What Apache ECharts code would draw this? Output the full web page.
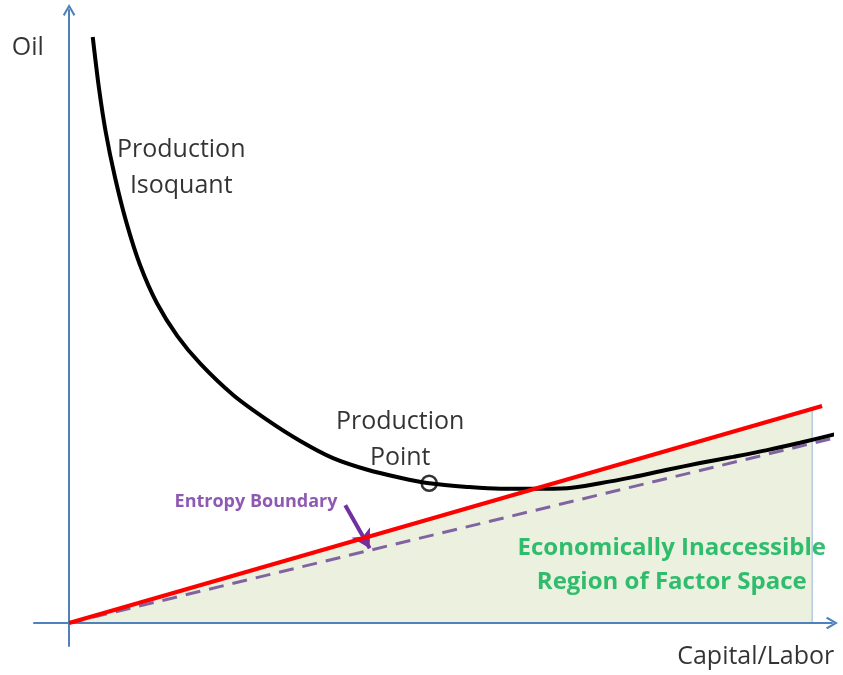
<!DOCTYPE html>
<html>
<head>
<meta charset="utf-8">
<script src="https://cdn.jsdelivr.net/npm/echarts@6/dist/echarts.min.js"></script>
<style>
html, body { margin: 0; padding: 0; background: #fff; }
#chart { width: 843px; height: 675px; }
</style>
</head>
<body>
<div id="chart"></div>
<script>
// factor space, arbitrary units: x = capital/labor, y = oil
var isoquant = [
	[3.1, 95.6], [3.9, 87.4], [4.8, 80.1], [6.0, 72.8], [7.5, 65.4], [9.3, 58.4],
	[11.5, 52.2], [14.2, 46.8], [17.2, 42.3], [21.5, 37.2], [26.0, 33.1], [30.3, 29.7],
	[34.6, 26.9], [39.1, 25.0], [43.4, 23.7], [47.2, 22.8], [52.2, 22.2], [56.5, 21.9],
	[60.8, 21.9], [65.3, 22.0], [69.6, 22.8], [73.9, 23.8], [78.4, 25.0], [82.7, 26.1],
	[87.0, 27.1], [91.5, 28.2], [95.8, 29.4], [100.4, 30.8]
];
var budgetLine = [[0, 0], [98.7, 35.4]];
var entropyBoundary = [[0, 0], [100.7, 30.3]];
var inaccessibleRegion = [[0, 0], [97.4, 34.9], [97.4, 0]];
var productionPoint = [[47.2, 22.8]];
var entropyArrow = [[36.2, 19.2], [39.4, 12.2]];

var axisNames = ["Oil", "Capital/Labor"];
var axisNamePos = [[-5.4, 93.8], [90.0, -5.5]];
var notes = ["Production\nIsoquant", "Production\nPoint", "Entropy Boundary", "Economically Inaccessible\nRegion of Factor Space"];
var notePos = [[14.7, 74.2], [43.4, 29.9], [24.5, 19.7], [79.0, 9.5]];

var chevron = "path://M5,0 L10,8.6 L8.6,9.6 L5,3.2 L1.4,9.6 L0,8.6 Z";
var axisBlue = "#4f81bd";
var font = "'Open Sans', sans-serif";

var myChart = echarts.init(document.getElementById("chart"));

function axis(min) {
	return {
		type: "value",
		min: min,
		max: 100,
		z: 1.5,
		axisLine: {
			show: true,
			onZero: true,
			symbol: ["none", chevron],
			symbolSize: [14, 12],
			lineStyle: { color: axisBlue, width: 2 }
		},
		axisTick: { show: false },
		axisLabel: { show: false },
		splitLine: { show: false }
	};
}

var labelData = [];
axisNames.forEach(function (t, i) {
	labelData.push({
		value: axisNamePos[i],
		label: { formatter: t, position: "inside", color: "#000", fontSize: 25, fontFamily: font }
	});
});
var noteStyles = [
	{ position: "inside", align: "center", color: "#000", fontSize: 25, lineHeight: 36 },
	{ position: "inside", align: "center", color: "#000", fontSize: 25, lineHeight: 36 },
	{ position: "inside", align: "center", color: "#7030a0", fontSize: 18, fontWeight: "bold" },
	{ position: "inside", align: "center", color: "#00b050", fontSize: 24, fontWeight: "bold", lineHeight: 34 }
];
notes.forEach(function (t, i) {
	var st = noteStyles[i];
	st.formatter = t;
	st.fontFamily = font;
	labelData.push({ value: notePos[i], label: st });
});

var option = {
	animation: false,
	grid: { left: 34, right: 11, top: 10, bottom: 29 },
	xAxis: axis(-4.6),
	yAxis: axis(-3.75),
	series: [
		{
			name: "region",
			type: "line",
			data: inaccessibleRegion,
			symbol: "none",
			z: 1,
			lineStyle: { color: "#95b3d7", width: 1 },
			areaStyle: { color: "#ebf1de", opacity: 1 }
		},
		{
			name: "entropy",
			type: "line",
			data: entropyBoundary,
			symbol: "none",
			clip: false,
			z: 3,
			lineStyle: { color: "#8064a2", width: 3, type: [15, 9] },
			markLine: {
				silent: true,
				symbol: ["none", "arrow"],
				symbolSize: [16, 18],
				label: { show: false },
				lineStyle: { color: "#7030a0", width: 4, type: "solid" },
				data: [[{ coord: entropyArrow[0] }, { coord: entropyArrow[1] }]]
			}
		},
		{
			name: "isoquant",
			type: "line",
			data: isoquant,
			smooth: 0.3,
			symbol: "none",
			clip: false,
			z: 4,
			lineStyle: { color: "#000", width: 4 }
		},
		{
			name: "budget",
			type: "line",
			data: budgetLine,
			symbol: "none",
			clip: false,
			z: 5,
			lineStyle: { color: "#ff0000", width: 4 }
		},
		{
			name: "point",
			type: "scatter",
			data: productionPoint,
			symbol: "circle",
			symbolSize: 15,
			z: 6,
			itemStyle: { color: "rgba(0,0,0,0)", borderColor: "#000", borderWidth: 2.5 }
		},
		{
			name: "labels",
			type: "scatter",
			data: labelData,
			symbolSize: 0,
			clip: false,
			z: 7,
			label: { show: true },
			silent: true
		}
	]
};

myChart.setOption(option);
</script>
</body>
</html>
